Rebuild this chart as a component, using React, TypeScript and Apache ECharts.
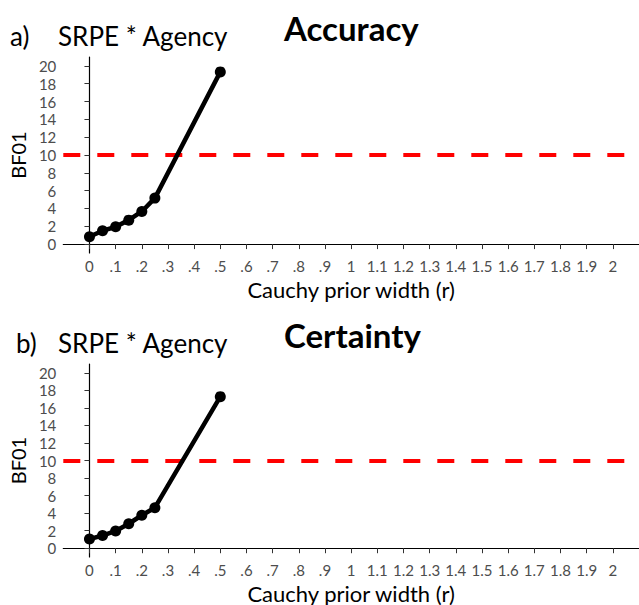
import React, { useEffect, useRef } from "react";
import * as echarts from "echarts";

const priorWidths = [0, 0.05, 0.1, 0.15, 0.2, 0.25, 0.5];
const accuracyBF = [0.82, 1.5, 1.94, 2.69, 3.66, 5.16, 19.33];
const certaintyBF = [1.04, 1.45, 1.97, 2.79, 3.76, 4.62, 17.28];
const threshold = 10;
const xTickValues = [0, 0.1, 0.2, 0.3, 0.4, 0.5, 0.6, 0.7, 0.8, 0.9, 1, 1.1, 1.2, 1.3, 1.4, 1.5, 1.6, 1.7, 1.8, 1.9, 2];
const xTickLabels = ["0", ".1", ".2", ".3", ".4", ".5", ".6", ".7", ".8", ".9", "1", "1.1", "1.2", "1.3", "1.4", "1.5", "1.6", "1.7", "1.8", "1.9", "2"];
const yTickValues = [0, 2, 4, 6, 8, 10, 12, 14, 16, 18, 20];
const panelLetters = ["a)", "b)"];
const panelSubtitles = ["SRPE * Agency", "SRPE * Agency"];
const panelTitles = ["Accuracy", "Certainty"];

const FONT = "Lato";

export default function App() {
  const ref = useRef<HTMLDivElement>(null);
  useEffect(() => {
    if (!ref.current) return;
    const chart = echarts.init(ref.current, null, { renderer: "svg" });
    const gridTops = [57, 364];
    const titleTops = [6, 313];
    const letterLefts = [5, 11];
    const grids = gridTops.map((t) => ({ left: 58, top: t, width: 583, height: 196 }));
    const xAxes = gridTops.map((_, i) => ({
      type: "value",
      gridIndex: i,
      min: -0.1,
      max: 2.1,
      name: "Cauchy prior width (r)",
      nameLocation: "middle",
      nameGap: 26,
      nameTextStyle: { fontFamily: FONT, fontSize: 22, lineHeight: 20, color: "#000" },
      axisLine: { lineStyle: { color: "#000", width: 1.2 } },
      axisTick: { show: true, length: 5, customValues: xTickValues, lineStyle: { color: "#333" } },
      axisLabel: {
        customValues: xTickValues,
        margin: 6,
        fontFamily: FONT,
        fontSize: 15,
        lineHeight: 14,
        color: "#4d4d4d",
        formatter: (v: number) => {
          const idx = xTickValues.findIndex((t) => Math.abs(t - v) < 1e-6);
          return idx >= 0 ? xTickLabels[idx] : "";
        },
      },
      splitLine: { show: false },
    }));
    const yAxes = gridTops.map((_, i) => ({
      type: "value",
      gridIndex: i,
      min: -1,
      max: 21,
      name: "BF01",
      nameLocation: "middle",
      nameGap: 33,
      nameRotate: 90,
      nameTextStyle: { fontFamily: FONT, fontSize: 20, color: "#000" },
      axisLine: { show: true, lineStyle: { color: "#000", width: 1.2 } },
      axisTick: { show: true, length: 5, customValues: yTickValues, lineStyle: { color: "#333" } },
      axisLabel: { customValues: yTickValues, margin: 7, fontFamily: FONT, fontSize: 15, lineHeight: 14, color: "#4d4d4d" },
      splitLine: { show: false },
    }));
    const datasets = [accuracyBF, certaintyBF];
    const series = datasets.map((vals, i) => ({
      type: "line",
      xAxisIndex: i,
      yAxisIndex: i,
      data: priorWidths.map((w, j) => [w, vals[j]]),
      symbol: "circle",
      symbolSize: 11,
      lineStyle: { color: "#000", width: 4.5 },
      itemStyle: { color: "#000" },
      z: 3,
      markLine: {
        silent: true,
        symbol: "none",
        label: { show: false },
        lineStyle: { color: "#ff0000", width: 4, type: [17, 17] },
        data: [{ yAxis: threshold }],
        z: 2,
      },
    }));
    const titles: any[] = [];
    gridTops.forEach((_, i) => {
      titles.push({
        text: panelLetters[i],
        left: letterLefts[i],
        top: titleTops[i] + 12,
        textStyle: { fontFamily: FONT, fontSize: 26, fontWeight: "normal", color: "#000" },
      });
      titles.push({
        text: panelSubtitles[i],
        left: 53,
        top: titleTops[i] + 12,
        textStyle: { fontFamily: FONT, fontSize: 26, fontWeight: "normal", color: "#000" },
      });
      titles.push({
        text: panelTitles[i],
        left: 279,
        top: titleTops[i],
        textStyle: { fontFamily: FONT, fontSize: 33, fontWeight: "bold", color: "#000" },
      });
    });
    chart.setOption({
      animation: false,
      backgroundColor: "#fff",
      title: titles,
      grid: grids,
      xAxis: xAxes,
      yAxis: yAxes,
      series,
    });
    return () => chart.dispose();
  }, []);
  return (
    <div
      ref={ref}
      style={{ position: "fixed", left: 0, top: 0, width: 639, height: 605, background: "#fff" }}
    />
  );
}
